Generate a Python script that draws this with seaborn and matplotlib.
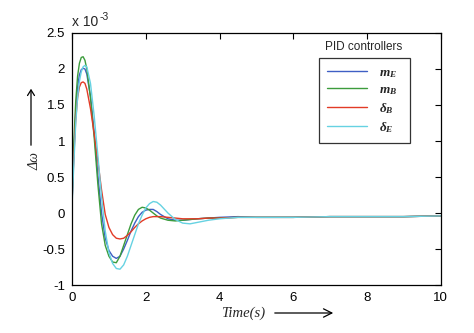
import numpy as np
import pandas as pd
import matplotlib
matplotlib.use("Agg")
import matplotlib.pyplot as plt
from matplotlib.ticker import FormatStrFormatter
from matplotlib.lines import Line2D
import seaborn as sns

# ---- data (values in units of 1e-3) ----
time = [0, 0.05, 0.1, 0.15, 0.2, 0.25, 0.3, 0.35, 0.4, 0.5, 0.6, 0.7, 0.8, 0.9,
        1.0, 1.1, 1.2, 1.3, 1.4, 1.5, 1.6, 1.7, 1.8, 1.9, 2.0, 2.1, 2.2, 2.3,
        2.4, 2.6, 2.8, 3.0, 3.2, 3.4, 3.7, 4.0, 4.5, 5, 6, 7, 8, 9, 10]

m_E = [0.15, 0.85, 1.4, 1.75, 1.92, 1.99, 2.01, 2.0, 1.93, 1.62, 1.12, 0.52, 0.0, -0.35,
       -0.52, -0.6, -0.63, -0.6, -0.5, -0.38, -0.25, -0.14, -0.05, 0.01, 0.04, 0.05, 0.05, 0.02,
       -0.02, -0.08, -0.1, -0.1, -0.09, -0.08, -0.07, -0.06, -0.05, -0.06, -0.06, -0.05, -0.05, -0.05, -0.04]

m_B = [0.2, 1.0, 1.55, 1.9, 2.08, 2.16, 2.17, 2.12, 2.0, 1.6, 1.05, 0.4, -0.15, -0.45,
       -0.6, -0.68, -0.69, -0.6, -0.45, -0.3, -0.15, -0.03, 0.05, 0.08, 0.07, 0.04, 0.0, -0.04,
       -0.07, -0.1, -0.11, -0.1, -0.09, -0.08, -0.07, -0.07, -0.06, -0.06, -0.06, -0.05, -0.05, -0.05, -0.04]

d_B = [0.15, 0.8, 1.3, 1.6, 1.75, 1.81, 1.82, 1.8, 1.72, 1.45, 1.1, 0.72, 0.32, -0.02,
       -0.2, -0.3, -0.35, -0.36, -0.35, -0.31, -0.26, -0.2, -0.15, -0.11, -0.08, -0.06, -0.05, -0.05,
       -0.05, -0.06, -0.07, -0.08, -0.08, -0.08, -0.07, -0.07, -0.06, -0.06, -0.06, -0.05, -0.05, -0.05, -0.04]

d_E = [0.1, 0.7, 1.25, 1.6, 1.83, 1.96, 2.03, 2.05, 2.03, 1.8, 1.35, 0.8, 0.22, -0.25,
       -0.55, -0.7, -0.77, -0.78, -0.72, -0.6, -0.45, -0.3, -0.15, -0.03, 0.07, 0.13, 0.16, 0.15,
       0.11, 0.0, -0.09, -0.14, -0.15, -0.13, -0.1, -0.08, -0.06, -0.06, -0.06, -0.05, -0.05, -0.05, -0.04]

series_names = ["mE", "mB", "dB", "dE"]
series_labels = [r"$m_{E}$", r"$m_{B}$", r"$\delta_{B}$", r"$\delta_{E}$"]
colors = ["#3f5fc4", "#3c9c3c", "#e23b26", "#66d2e2"]

x_ticks = [0, 2, 4, 6, 8, 10]
y_ticks = [-1, -0.5, 0, 0.5, 1, 1.5, 2, 2.5]

df = pd.concat([
    pd.DataFrame({"t": time, "v": vals, "series": name})
    for name, vals in zip(series_names, [m_E, m_B, d_B, d_E])
], ignore_index=True)

# ---- style ----
sns.set_style("white")
plt.rcParams["font.family"] = ["Liberation Sans", "DejaVu Sans"]
plt.rcParams["axes.unicode_minus"] = False
plt.rcParams["mathtext.fontset"] = "custom"
plt.rcParams["mathtext.it"] = "Liberation Serif:italic:bold"
plt.rcParams["mathtext.rm"] = "Liberation Serif:bold"
plt.rcParams["mathtext.bf"] = "Liberation Serif:bold"

fig = plt.figure(figsize=(4.74, 3.33), dpi=100)
ax = fig.add_axes([0.152, 0.144, 0.778, 0.757])

sns.lineplot(data=df, x="t", y="v", hue="series", hue_order=series_names,
             palette=colors, linewidth=1.0, legend=False, ax=ax, sort=False,
             estimator=None)

ax.set_xlim(0, 10)
ax.set_ylim(-1, 2.5)
ax.set_xticks(x_ticks)
ax.set_yticks(y_ticks)
ax.xaxis.set_major_formatter(FormatStrFormatter("%g"))
ax.yaxis.set_major_formatter(FormatStrFormatter("%g"))
ax.tick_params(direction="in", length=4, width=0.8, top=True, right=True,
               labelsize=9.5, colors="black", pad=5)
for s in ax.spines.values():
    s.set_visible(True)
    s.set_color("black")
    s.set_linewidth(0.9)
ax.set_xlabel("")
ax.set_ylabel("")

# exponent text
ax.text(0.0, 1.015, "x 10", transform=ax.transAxes,
        ha="left", va="bottom", fontsize=10)
ax.text(0.075, 1.045, "-3", transform=ax.transAxes,
        ha="left", va="bottom", fontsize=7.5)

# y label with arrow
fig.text(35 / 474, 1 - 161 / 333, "Δω", rotation=90, ha="center", va="center",
         fontsize=10, family="Liberation Serif", style="italic")
fig.add_artist(matplotlib.patches.FancyArrowPatch(
    (31 / 474, 1 - 148 / 333), (31 / 474, 1 - 86 / 333),
    transform=fig.transFigure, arrowstyle="->,head_length=4,head_width=2.5",
    color="black", linewidth=0.9, mutation_scale=1))

# x label with arrow
fig.text(243 / 474, 1 - 313 / 333, "Time(s)", ha="center", va="center",
         fontsize=10.5, family="Liberation Serif", style="italic")
fig.add_artist(matplotlib.patches.FancyArrowPatch(
    (272 / 474, 1 - 313 / 333), (336 / 474, 1 - 313 / 333),
    transform=fig.transFigure, arrowstyle="->,head_length=6,head_width=3",
    color="black", linewidth=0.9, mutation_scale=1))

# legend
handles = [Line2D([0], [0], color=c, lw=1.0) for c in colors]
leg = ax.legend(handles, series_labels, loc="upper left",
                bbox_to_anchor=(0.669, 0.583, 0.247, 0.318), mode="expand",
                borderaxespad=0, frameon=True, fancybox=False, edgecolor="black",
                handlelength=3.0, labelspacing=0.32, fontsize=9.5,
                borderpad=0.65, handletextpad=0.9)
leg.get_frame().set_linewidth(0.9)
for txt in leg.get_texts():
    txt.set_ha("left")
ax.text(0.686, 0.944, "PID controllers", transform=ax.transAxes,
        ha="left", va="center", fontsize=8.5)

fig.savefig("out.png", dpi=100)
